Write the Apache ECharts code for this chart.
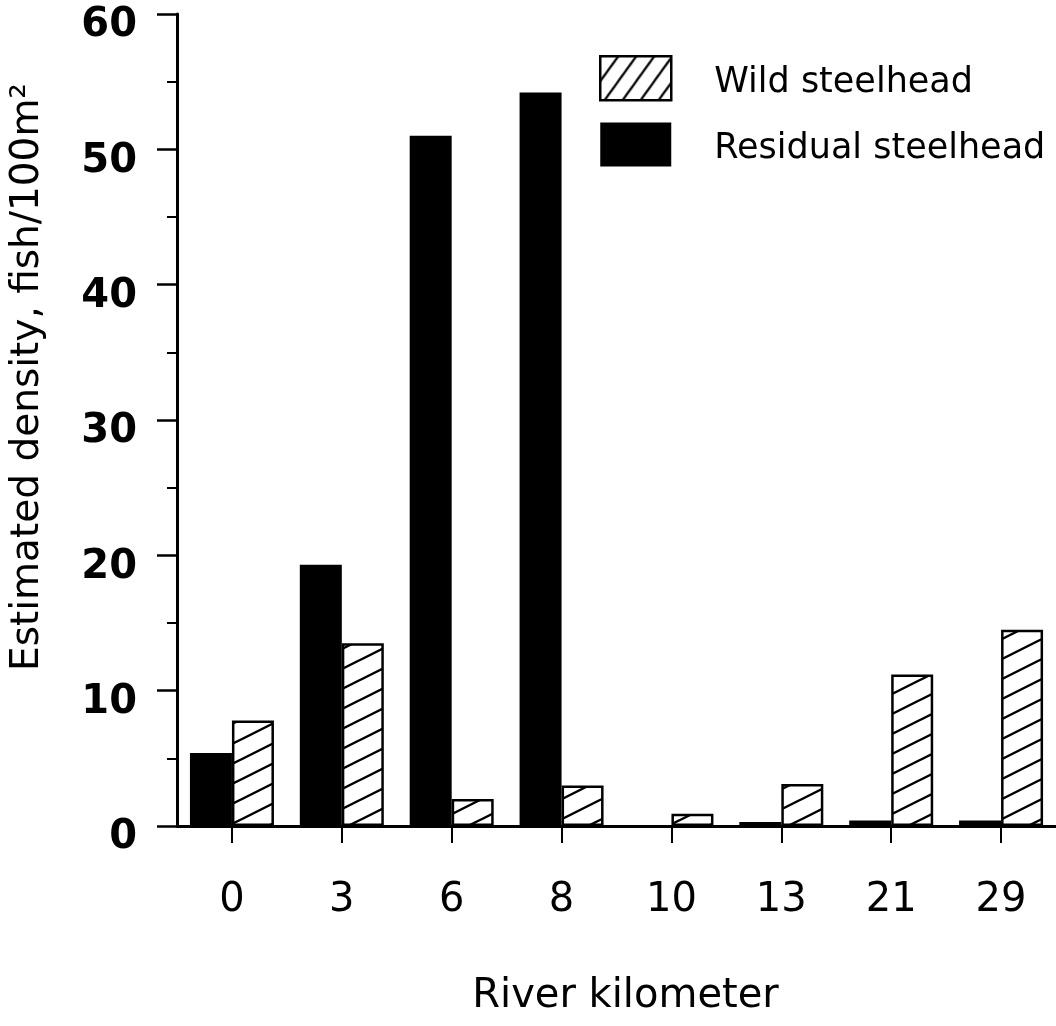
<!DOCTYPE html>
<html>
<head>
<meta charset="utf-8">
<script src="https://cdn.jsdelivr.net/npm/echarts@6/dist/echarts.min.js"></script>
<style>
  html, body { margin: 0; padding: 0; background: #fff; }
  #chart { width: 1056px; height: 1026px; }
</style>
</head>
<body>
<div id="chart"></div>
<script>
// River kilometre sampling sites
const categories = ['0', '3', '6', '8', '10', '13', '21', '29'];
// Estimated density (fish per 100 m²)
const residualSteelhead = [5.4, 19.3, 51.0, 54.2, 0, 0.3, 0.4, 0.4];
const wildSteelhead = [7.8, 13.5, 2.0, 3.0, 0.9, 3.1, 11.2, 14.5];
// Density axis
const yMin = 0;
const yMax = 60;
const yStep = 10;

const FONT = 'DejaVu Sans';

// Diagonal hatch fill: a periodic rising line through (0,h) and (w,0) per tile
function hatch(w, h, lw) {
  const c = document.createElement('canvas');
  c.width = w;
  c.height = h;
  const g = c.getContext('2d');
  g.fillStyle = '#fff';
  g.fillRect(0, 0, w, h);
  g.strokeStyle = '#000';
  g.lineWidth = lw;
  g.beginPath();
  const s = h / w;
  for (const k of [-1, 0, 1]) {
    const x0 = -w / 2, x1 = w * 1.5;
    g.moveTo(x0, h - s * x0 + k * h);
    g.lineTo(x1, h - s * x1 + k * h);
  }
  g.stroke();
  return { image: c, repeat: 'repeat' };
}

const barHatch = hatch(40, 20, 2.4);
const legendHatch = hatch(18, 25, 2.2);

const chart = echarts.init(document.getElementById('chart'), null, { renderer: 'canvas' });

chart.setOption({
  backgroundColor: '#fff',
  animation: false,
  grid: { left: 175, right: 0, top: 14, bottom: 200, containLabel: false },
  legend: {
    orient: 'vertical',
    left: 599,
    top: 55,
    padding: 0,
    itemWidth: 71,
    itemHeight: 44,
    itemGap: 21,
    selectedMode: false,
    data: [
      { name: 'Wild steelhead', icon: 'rect', itemStyle: { color: legendHatch, borderColor: '#000', borderWidth: 2.5 } },
      { name: 'Residual steelhead', icon: 'rect' }
    ],
    formatter: name => '{t|' + name + '}',
    textStyle: {
      fontFamily: FONT,
      fontSize: 35,
      color: '#000',
      padding: [0, 0, 0, 38],
      rich: { t: { fontFamily: FONT, fontSize: 35, color: '#000', padding: [9, 0, 0, 0] } }
    }
  },
  xAxis: {
    type: 'category',
    data: categories,
    boundaryGap: true,
    name: 'River kilometer',
    nameLocation: 'middle',
    nameGap: 151,
    nameTextStyle: { fontFamily: FONT, fontSize: 40, color: '#000', padding: [0, 0, 0, 18] },
    axisLine: { show: true, lineStyle: { color: '#000', width: 3 } },
    axisTick: { show: true, alignWithLabel: true, length: 17, lineStyle: { color: '#000', width: 2 } },
    axisLabel: { margin: 55, fontFamily: FONT, fontSize: 40, color: '#000' },
    splitLine: { show: false }
  },
  yAxis: {
    type: 'value',
    min: yMin,
    max: yMax,
    interval: yStep,
    name: 'Estimated density, fish/100m²',
    nameLocation: 'middle',
    nameGap: 130,
    nameTextStyle: { fontFamily: FONT, fontSize: 39, color: '#000', padding: [0, 0, 0, 86] },
    axisLine: { show: true, lineStyle: { color: '#000', width: 3 } },
    axisTick: { show: true, length: 20, lineStyle: { color: '#000', width: 2.5 } },
    minorTick: { show: true, splitNumber: 2, length: 10, lineStyle: { color: '#000', width: 2 } },
    axisLabel: {
      margin: 40,
      fontFamily: FONT,
      fontWeight: 'bold',
      fontSize: 40,
      color: '#000',
      verticalAlign: 'top',
      lineHeight: 24
    },
    splitLine: { show: false },
    minorSplitLine: { show: false }
  },
  series: [
    {
      name: 'Residual steelhead',
      type: 'bar',
      data: residualSteelhead,
      barWidth: 42,
      barGap: '0%',
      itemStyle: { color: '#000', borderColor: '#000', borderWidth: 0 }
    },
    {
      name: 'Wild steelhead',
      type: 'bar',
      data: wildSteelhead,
      barWidth: 42,
      barGap: '0%',
      itemStyle: { color: barHatch, borderColor: '#000', borderWidth: 2.5 }
    }
  ]
});
</script>
</body>
</html>
